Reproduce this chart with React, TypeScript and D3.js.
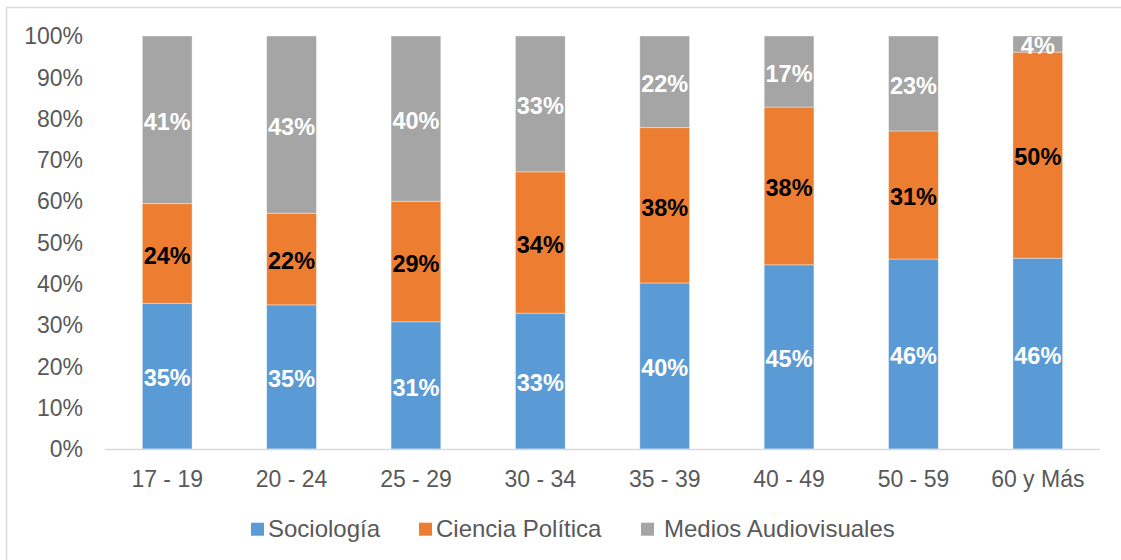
import React from "react";
import * as d3 from "d3";

const categories = ["17 - 19", "20 - 24", "25 - 29", "30 - 34", "35 - 39", "40 - 49", "50 - 59", "60 y Más"];
const sociologia = [35.3, 34.9, 30.8, 32.9, 40.2, 44.6, 46.0, 46.2];
const cienciaPolitica = [24.1, 22.2, 29.2, 34.2, 37.6, 38.2, 31.0, 49.9];
const mediosAudiovisuales = [40.6, 42.9, 40.0, 32.9, 22.2, 17.2, 23.0, 3.9];
const seriesNames = ["Sociología", "Ciencia Política", "Medios Audiovisuales"];
const yTicks = [0, 10, 20, 30, 40, 50, 60, 70, 80, 90, 100];

const colors = ["#5B9BD5", "#ED7D31", "#A5A5A5"];
const labelColors = ["#FFFFFF", "#000000", "#FFFFFF"];
const FONT = "'Liberation Sans', Arial, sans-serif";

export default function App() {
  const W = 1121, H = 560;
  const x = d3.scaleBand<string>().domain(categories).range([105, 1100]).paddingInner(0.6).paddingOuter(0.3);
  const y = d3.scaleLinear().domain([0, 100]).range([449, 36]);

  const rows = categories.map((c, i) => ({
    cat: c,
    s0: sociologia[i],
    s1: cienciaPolitica[i],
    s2: mediosAudiovisuales[i],
  }));
  const stack = d3.stack<any>().keys(["s0", "s1", "s2"]);
  const layers = stack(rows);

  const legendItems = [
    { sq: 251, tx: 268 },
    { sq: 419, tx: 436 },
    { sq: 641, tx: 664 },
  ];

  return (
    <svg width={W} height={H} style={{ position: "absolute", left: 0, top: 0, background: "#fff" }} fontFamily={FONT}>
      <rect x={0} y={0} width={W} height={H} fill="#fff" />
      <rect x={6.5} y={7.5} width={1200} height={700} fill="none" stroke="#D9D9D9" strokeWidth={1.5} />
      {yTicks.map((t) => (
        <text key={t} x={83} y={y(t)} dy="0.36em" textAnchor="end" fontSize={23} fill="#595959">
          {t}%
        </text>
      ))}
      {layers.map((layer, li) => (
        <g key={li}>
          {layer.map((d, i) => (
            <rect
              key={i}
              x={x(categories[i])}
              y={y(d[1])}
              width={x.bandwidth()}
              height={y(d[0]) - y(d[1])}
              fill={colors[li]}
              stroke="#FFFFFF"
              strokeOpacity={0.5}
              strokeWidth={0.75}
            />
          ))}
        </g>
      ))}
      <line x1={105} x2={1100} y1={449.5} y2={449.5} stroke="#D9D9D9" strokeWidth={1.5} />
      {layers.map((layer, li) => (
        <g key={"l" + li}>
          {layer.map((d, i) => (
            <text
              key={i}
              x={(x(categories[i]) as number) + x.bandwidth() / 2}
              y={(y(d[0]) + y(d[1])) / 2}
              dy="0.44em"
              textAnchor="middle"
              fontSize={23.5}
              fontWeight="bold"
              fill={labelColors[li]}
            >
              {Math.round(d[1] - d[0])}%
            </text>
          ))}
        </g>
      ))}
      {categories.map((c) => (
        <text key={c} x={(x(c) as number) + x.bandwidth() / 2} y={486.7} textAnchor="middle" fontSize={23} fill="#595959">
          {c}
        </text>
      ))}
      {seriesNames.map((n, i) => (
        <g key={n}>
          <rect x={legendItems[i].sq} y={522.7} width={13} height={13} fill={colors[i]} />
          <text x={legendItems[i].tx} y={536.7} fontSize={24} fill="#595959">
            {n}
          </text>
        </g>
      ))}
    </svg>
  );
}
